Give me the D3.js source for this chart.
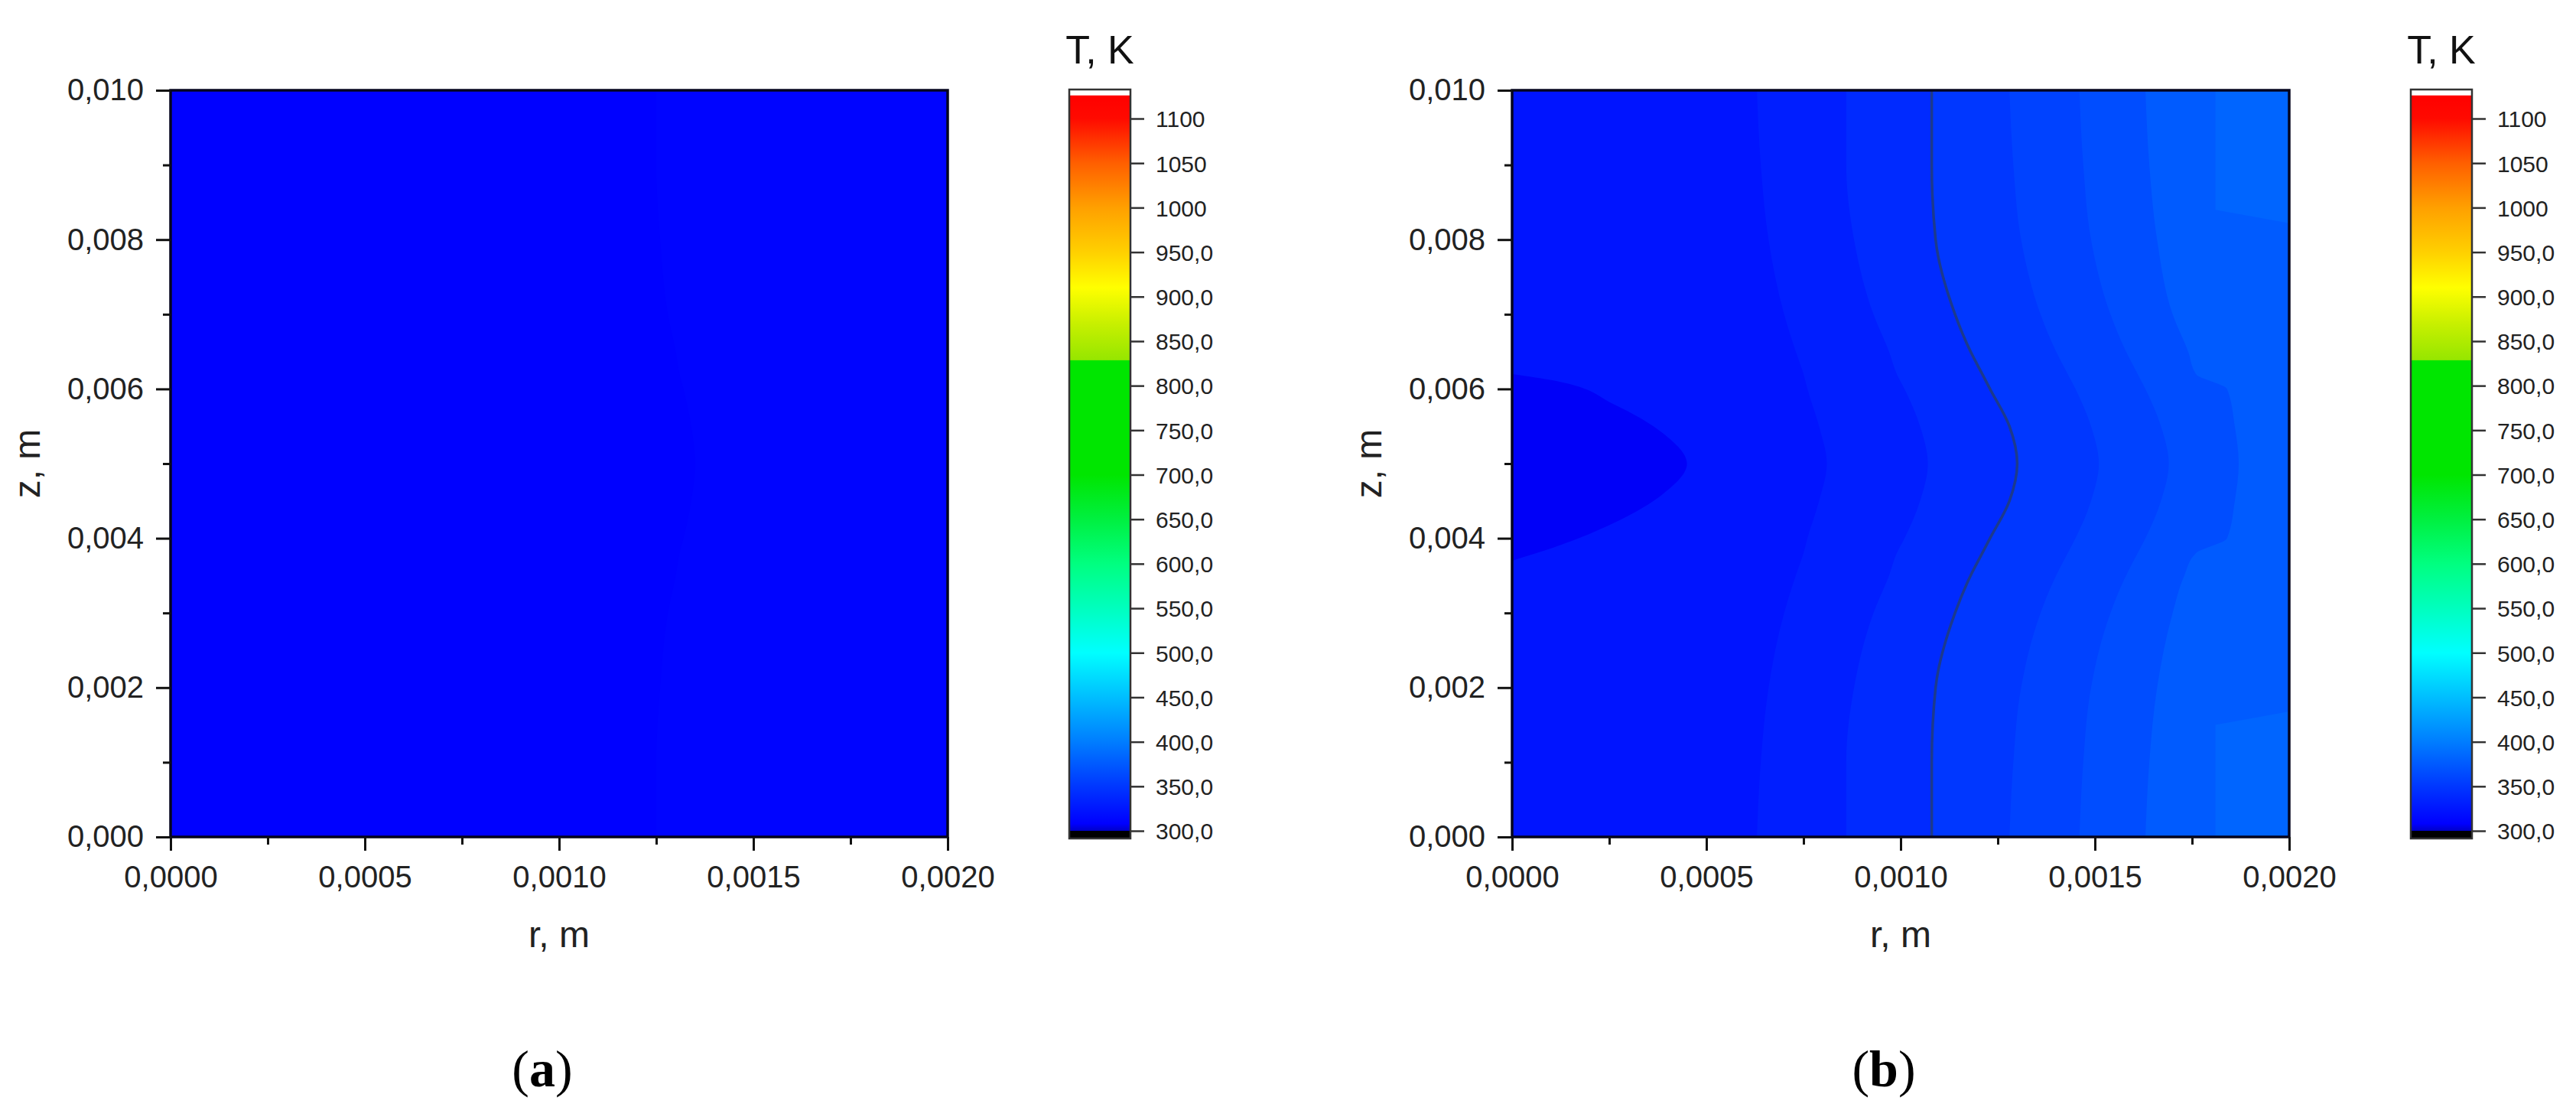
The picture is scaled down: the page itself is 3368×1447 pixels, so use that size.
<!DOCTYPE html>
<html><head><meta charset="utf-8">
<script src="https://cdn.jsdelivr.net/npm/d3@7/dist/d3.min.js"></script>
<style>body{margin:0;background:#fff}svg{display:block}</style>
</head><body>
<svg id="c" width="3368" height="1447"></svg>
<script>
// ---------- data ----------
const rTicks = [0, 0.0005, 0.001, 0.0015, 0.002];
const rTickLabels = ["0,0000", "0,0005", "0,0010", "0,0015", "0,0020"];
const rMinor = [0.00025, 0.00075, 0.00125, 0.00175];
const zTicks = [0, 0.002, 0.004, 0.006, 0.008, 0.01];
const zTickLabels = ["0,000", "0,002", "0,004", "0,006", "0,008", "0,010"];
const zMinor = [0.001, 0.003, 0.005, 0.007, 0.009];
const cbTicks = [300, 350, 400, 450, 500, 550, 600, 650, 700, 750, 800, 850, 900, 950, 1000, 1050, 1100];
const cbTickLabels = ["300,0", "350,0", "400,0", "450,0", "500,0", "550,0", "600,0", "650,0", "700,0", "750,0", "800,0", "850,0", "900,0", "950,0", "1000", "1050", "1100"];
const cbMin = 300, cbMax = 1126;
// colour palette (temperature -> colour)
const paletteT = [300, 308, 350, 400, 450, 500, 550, 600, 650, 700, 828, 829, 870, 910, 950, 1000, 1050, 1100, 1126];
const paletteC = ["#0000c8", "#0000ff", "#0037ff", "#007dff", "#00beff", "#00ffff", "#00ffbe", "#00ff80", "#00f040", "#00e600", "#00e600", "#96e600", "#c8f000", "#ffff00", "#ffd000", "#ffa000", "#ff5f00", "#ff0a00", "#ff0000"];

// isotherm positions r(z)
const isoZ = [0, 0.001, 0.002, 0.003, 0.0035, 0.0038, 0.004, 0.0045, 0.005, 0.0055, 0.006, 0.0062, 0.0065, 0.007, 0.008, 0.009, 0.01];
const isoB2 = [0.00063, 0.00064, 0.00066, 0.00070, 0.00073, 0.00075, 0.00076, 0.00079, 0.00081, 0.00079, 0.00076, 0.00075, 0.00073, 0.00070, 0.00066, 0.00064, 0.00063];
const isoB3 = [0.00086, 0.00086, 0.00088, 0.00093, 0.00097, 0.00099, 0.00101, 0.00105, 0.00107, 0.00105, 0.00101, 0.00099, 0.00097, 0.00093, 0.00088, 0.00086, 0.00086];
const isoL = [0.00108, 0.00108, 0.00109, 0.00114, 0.00118, 0.00121, 0.00123, 0.00128, 0.00130, 0.00128, 0.00123, 0.00121, 0.00118, 0.00114, 0.00109, 0.00108, 0.00108];
const isoB5 = [0.00128, 0.00129, 0.00131, 0.00136, 0.00140, 0.00143, 0.00145, 0.00149, 0.00151, 0.00149, 0.00145, 0.00143, 0.00140, 0.00136, 0.00131, 0.00129, 0.00128];
const isoB6 = [0.00146, 0.00147, 0.00149, 0.00154, 0.00158, 0.00161, 0.00163, 0.00167, 0.00169, 0.00167, 0.00163, 0.00161, 0.00158, 0.00154, 0.00149, 0.00147, 0.00146];
const isoB7 = [0.00163, 0.00164, 0.00166, 0.00170, 0.00173, 0.00176, 0.00184, 0.00186, 0.00187, 0.00186, 0.00184, 0.00176, 0.00174, 0.00170, 0.00166, 0.00164, 0.00163];
const cornerZ = [0, 0.0015, 0.0017, 0.0082, 0.0084, 0.01];
const cornerR = [0.00181, 0.00181, 0.00202, 0.00202, 0.00181, 0.00181];
const ovalZ = [0.0037, 0.0039, 0.0042, 0.0046, 0.005, 0.0054, 0.0058, 0.0061, 0.0062];
const ovalR = [0, 0.00012, 0.00026, 0.00039, 0.00045, 0.00039, 0.00026, 0.00012, 0];
// band temperatures of panel (b), from the coolest (oval) to the warmest (corners)
const bandTb = [307, 323, 331, 340, 350, 358, 366, 376, 383];
// panel (a): almost uniform field
const isoA = [0.00125, 0.00125, 0.00126, 0.00128, 0.00130, 0.00131, 0.00132, 0.00134, 0.00135, 0.00134, 0.00132, 0.00131, 0.00130, 0.00128, 0.00126, 0.00125, 0.00125];
const bandTa = [309, 311];

// ---------- drawing ----------
const svg = d3.select("#c");
const FONT = "'Liberation Sans', Arial, sans-serif";
const W = 1016, H = 976;
const x = d3.scaleLinear().domain([0, 0.002]).range([0, W]);
const y = d3.scaleLinear().domain([0, 0.01]).range([H, 0]);
const color = d3.scaleLinear().domain(paletteT).range(paletteC).interpolate(d3.interpolateRgb).clamp(true);
const cb = d3.scaleLinear().domain([300, 1100]).range([1086, 155]);

const defs = svg.append("defs");
const grad = defs.append("linearGradient").attr("id", "cbgrad")
  .attr("gradientUnits", "userSpaceOnUse").attr("x1", 0).attr("x2", 0)
  .attr("y1", cb(cbMin)).attr("y2", cb(cbMax));
paletteT.forEach((t, i) => grad.append("stop")
  .attr("offset", (t - cbMin) / (cbMax - cbMin)).attr("stop-color", paletteC[i]));

function zip(zs, rs) { return zs.map((z, i) => [rs[i], z]); }
const fillArea = d3.area().curve(d3.curveMonotoneY)
  .y(d => y(d[1])).x0(x(0)).x1(d => x(d[0]));
const stepArea = d3.area().y(d => y(d[1])).x0(x(0)).x1(d => x(d[0]));
const isoLine = d3.line().curve(d3.curveMonotoneY)
  .x(d => x(d[0])).y(d => y(d[1]));

function panel(ox, id, drawField, label) {
  const g = svg.append("g").attr("transform", `translate(${ox},118)`);
  defs.append("clipPath").attr("id", "clip" + id).append("rect").attr("width", W).attr("height", H);
  const f = g.append("g").attr("clip-path", `url(#clip${id})`);
  drawField(f);
  // frame
  g.append("rect").attr("width", W).attr("height", H).attr("fill", "none")
    .attr("stroke", "#05051e").attr("stroke-width", 3.5);
  // axes
  const ax = g.append("g").attr("transform", `translate(0,${H})`)
    .call(d3.axisBottom(x).tickValues(rTicks).tickFormat((d, i) => rTickLabels[i]).tickSize(18).tickPadding(20));
  const axm = g.append("g").attr("transform", `translate(0,${H})`)
    .call(d3.axisBottom(x).tickValues(rMinor).tickFormat("").tickSize(10));
  const ay = g.append("g")
    .call(d3.axisLeft(y).tickValues(zTicks).tickFormat((d, i) => zTickLabels[i]).tickSize(19).tickPadding(16));
  const aym = g.append("g")
    .call(d3.axisLeft(y).tickValues(zMinor).tickFormat("").tickSize(10));
  [ax, axm, ay, aym].forEach(a => {
    a.select(".domain").remove();
    a.selectAll("line").attr("stroke", "#111").attr("stroke-width", 3);
    a.selectAll("text").attr("font-family", FONT).attr("font-size", 40).attr("fill", "#222");
  });
  // axis titles
  g.append("text").attr("x", W / 2).attr("y", 1238 - 118).attr("text-anchor", "middle")
    .attr("font-family", FONT).attr("font-size", 48).attr("fill", "#222").text("r, m");
  g.append("text").attr("transform", `translate(${52 - 223},${H / 2}) rotate(-90)`)
    .attr("text-anchor", "middle").attr("font-family", FONT).attr("font-size", 48).attr("fill", "#222").text("z, m");
  // sub caption
  const cap = svg.append("text").attr("x", ox + W / 2 - 22).attr("y", 1420).attr("text-anchor", "middle")
    .attr("font-family", "'Liberation Serif', 'Times New Roman', serif").attr("font-size", 68).attr("fill", "#000");
  cap.append("tspan").text("(");
  cap.append("tspan").attr("font-weight", "bold").text(label);
  cap.append("tspan").text(")");
  // colour bar
  const cx = ox + 1175;
  const c = svg.append("g").attr("transform", `translate(${cx},0)`);
  c.append("rect").attr("x", 0).attr("y", 117).attr("width", 80).attr("height", cb(cbMax) - 117).attr("fill", "#fff");
  c.append("rect").attr("x", 0).attr("y", cb(cbMax)).attr("width", 80).attr("height", cb(cbMin) - cb(cbMax)).attr("fill", "url(#cbgrad)");
  c.append("rect").attr("x", 0).attr("y", cb(cbMin)).attr("width", 80).attr("height", 1096 - cb(cbMin)).attr("fill", "#000");
  c.append("rect").attr("x", 0).attr("y", 117).attr("width", 80).attr("height", 1096 - 117).attr("fill", "none")
    .attr("stroke", "#333").attr("stroke-width", 2.5);
  const ac = c.append("g").attr("transform", "translate(80,0)")
    .call(d3.axisRight(cb).tickValues(cbTicks).tickFormat((d, i) => cbTickLabels[i]).tickSize(18).tickPadding(15));
  ac.select(".domain").remove();
  ac.selectAll("line").attr("stroke", "#333").attr("stroke-width", 2.5);
  ac.selectAll("text").attr("font-family", FONT).attr("font-size", 30).attr("fill", "#222").attr("dy", "0.36em");
  c.append("text").attr("x", 40).attr("y", 83).attr("text-anchor", "middle")
    .attr("font-family", FONT).attr("font-size", 52).attr("fill", "#111").text("T, K");
}

panel(223, "a", f => {
  f.append("rect").attr("width", W).attr("height", H).attr("fill", color(bandTa[1]));
  f.append("path").attr("d", fillArea(zip(isoZ, isoA))).attr("fill", color(bandTa[0]));
}, "a");

panel(1977, "b", f => {
  const bounds = [zip(cornerZ, cornerR), zip(isoZ, isoB7), zip(isoZ, isoB6), zip(isoZ, isoB5),
                  zip(isoZ, isoL), zip(isoZ, isoB3), zip(isoZ, isoB2)];
  f.append("rect").attr("width", W).attr("height", H).attr("fill", color(bandTb[8]));
  bounds.forEach((b, i) => {
    f.append("path").attr("d", (i === 0 ? stepArea : fillArea)(b))
      .attr("fill", color(bandTb[7 - i]));
  });
  f.append("path").attr("d", fillArea(zip(ovalZ, ovalR))).attr("fill", color(bandTb[0]));
  f.append("path").attr("d", isoLine(zip(isoZ, isoL))).attr("fill", "none")
    .attr("stroke", "#1c3a8c").attr("stroke-width", 3.5);
}, "b");
</script>
</body></html>
